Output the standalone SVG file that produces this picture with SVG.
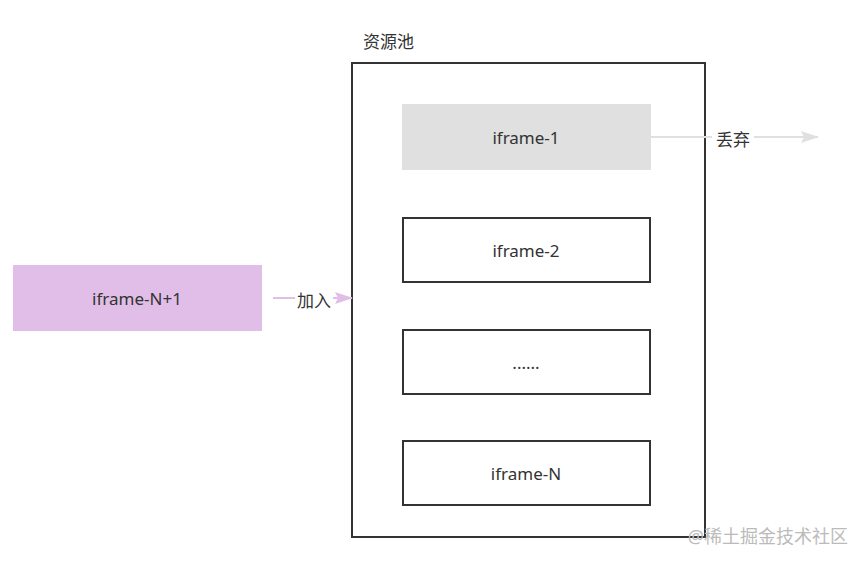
<svg xmlns="http://www.w3.org/2000/svg" width="864" height="564" viewBox="0 0 864 564">
<style>
text{font-family:"Noto Sans","Noto Sans CJK SC",sans-serif;fill:#333;font-size:17px}
.c{text-anchor:middle;dominant-baseline:central}
.box{fill:#fff;stroke:#333;stroke-width:2}
</style>
<defs>
<marker id="ag" markerWidth="18" markerHeight="12" refX="17" refY="6" orient="auto" markerUnits="userSpaceOnUse"><path d="M0,0 L18,6 L0,12 L3,6 Z" fill="#e0e0e0"/></marker>
<marker id="ap" markerWidth="18" markerHeight="12" refX="17" refY="6" orient="auto" markerUnits="userSpaceOnUse"><path d="M0,0 L18,6 L0,12 L3,6 Z" fill="#e1bee7"/></marker>
</defs>
<rect width="864" height="564" fill="#fff"/>
<g id="pool">
<rect x="352" y="63" width="353" height="474" fill="none" stroke="#333" stroke-width="2"/>
<text x="363" y="48">资源池</text>
</g>
<g id="connectors">
<line x1="651" y1="137" x2="818" y2="137" stroke="#e0e0e0" stroke-width="2" marker-end="url(#ag)"/>
<rect x="712" y="127" width="42" height="22" fill="#fff"/>
<text x="733" y="139" class="c">丢弃</text>
<line x1="273" y1="298" x2="352" y2="298" stroke="#e1bee7" stroke-width="2" marker-end="url(#ap)"/>
<rect x="295" y="288" width="38" height="22" fill="#fff"/>
<text x="314" y="300" class="c">加入</text>
</g>
<g id="iframe-1">
<rect x="402" y="104" width="249" height="66" fill="#e0e0e0"/>
<text x="526" y="137" class="c">iframe-1</text>
</g>
<g id="iframe-2">
<rect x="403" y="218" width="247" height="64" class="box"/>
<text x="526" y="250" class="c">iframe-2</text>
</g>
<g id="iframe-dots">
<rect x="403" y="330" width="247" height="64" class="box"/>
<text x="526" y="362" class="c">......</text>
</g>
<g id="iframe-N">
<rect x="403" y="441" width="247" height="64" class="box"/>
<text x="526" y="473" class="c">iframe-N</text>
</g>
<g id="iframe-N1">
<rect x="13" y="265" width="249" height="66" fill="#e1bee7"/>
<text x="137" y="298" class="c">iframe-N+1</text>
</g>
<text x="848" y="543" text-anchor="end" style="fill:#bbb;font-size:18px">@稀土掘金技术社区</text>
</svg>
